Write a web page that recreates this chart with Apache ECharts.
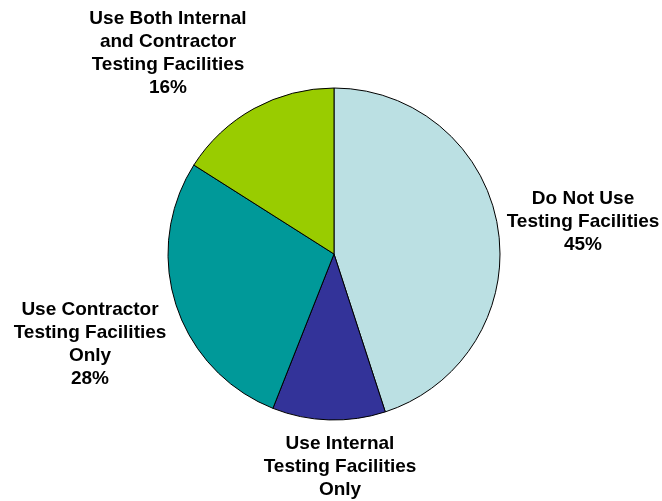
<!DOCTYPE html>
<html>
<head>
<meta charset="utf-8">
<script src="https://cdn.jsdelivr.net/npm/echarts@6/dist/echarts.min.js"></script>
<style>
  html, body { margin: 0; padding: 0; background: #fff; }
  #chart { width: 662px; height: 501px; }
</style>
</head>
<body>
<div id="chart"></div>
<script>
// slice names (clockwise from 12 o'clock) and shares in percent
const categories = [
  'Do Not Use\nTesting Facilities',
  'Use Internal\nTesting Facilities\nOnly',
  'Use Contractor\nTesting Facilities\nOnly',
  'Use Both Internal\nand Contractor\nTesting Facilities'
]
const shares = [45, 11, 28, 16]
const colors = ['#bbe0e3', '#333399', '#009999', '#99cc00']

// where each label sits (label centre, px)
const labelSpots = [
  [583, 222],
  [340, 478],
  [90, 344],
  [168, 53]
]

const chart = echarts.init(document.getElementById('chart'))

chart.setOption({
  animation: false,
  series: [
    {
      type: 'pie',
      center: [334, 254],
      radius: 166,
      startAngle: 90,
      clockwise: true,
      data: categories.map((name, i) => ({
        name,
        value: shares[i],
        itemStyle: { color: colors[i] }
      })),
      itemStyle: { borderColor: '#000', borderWidth: 1 },
      label: {
        show: true,
        position: 'outside',
        formatter: (p) => p.name + '\n' + p.value + '%',
        color: '#000',
        fontFamily: 'Liberation Sans, Arial, sans-serif',
        fontWeight: 'bold',
        fontSize: 19,
        lineHeight: 23,
        align: 'center',
        overflow: 'none',
        width: 200
      },
      labelLine: { show: false },
      labelLayout: (params) => {
        const spot = labelSpots[params.dataIndex]
        return { x: spot[0], y: spot[1], align: 'center', verticalAlign: 'middle' }
      }
    }
  ]
})
</script>
</body>
</html>
